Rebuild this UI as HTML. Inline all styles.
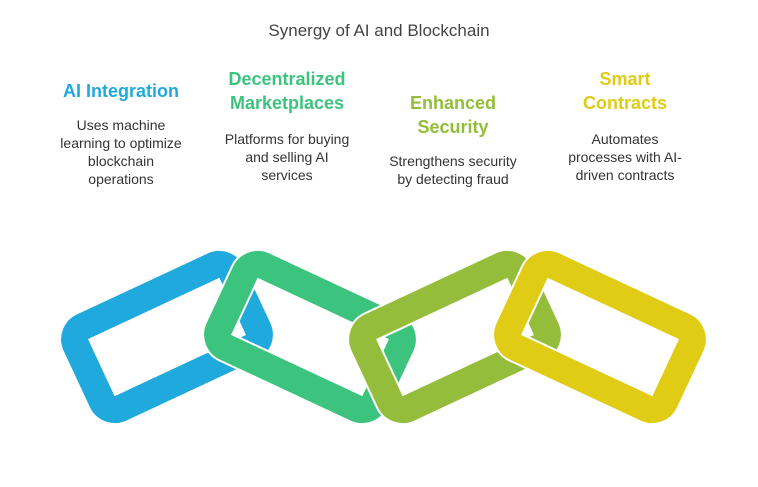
<!DOCTYPE html>
<html><head><meta charset="utf-8"><style>
body{margin:0;width:758px;height:487px;background:#fff;font-family:"Liberation Sans",sans-serif;position:relative;overflow:hidden}
.t{position:absolute;text-align:center;white-space:nowrap}
.h{font-weight:bold;font-size:18px;line-height:24px}
.d{font-size:14px;line-height:18px;color:#333}
</style></head><body>
<div class="t" style="left:0;width:758px;top:21px;font-size:17px;color:#444">Synergy of AI and Blockchain</div>
<div class="t h" style="left:21px;width:200px;top:79px;color:#1fa9dc">AI Integration</div>
<div class="t d" style="left:21px;width:200px;top:116px">Uses machine<br>learning to optimize<br>blockchain<br>operations</div>
<div class="t h" style="left:187px;width:200px;top:67px;color:#3cc47f">Decentralized<br>Marketplaces</div>
<div class="t d" style="left:187px;width:200px;top:130px">Platforms for buying<br>and selling AI<br>services</div>
<div class="t h" style="left:353px;width:200px;top:91px;color:#93bd3a">Enhanced<br>Security</div>
<div class="t d" style="left:353px;width:200px;top:152px">Strengthens security<br>by detecting fraud</div>
<div class="t h" style="left:525px;width:200px;top:67px;color:#e0cb15">Smart<br>Contracts</div>
<div class="t d" style="left:525px;width:200px;top:130px">Automates<br>processes with AI-<br>driven contracts</div>
<svg width="758" height="487" style="position:absolute;left:0;top:0">
<g fill="none" stroke-width="27">
<rect x="-86" y="-45" width="172" height="90" rx="14" stroke="#1fa9dc" transform="translate(167,337) rotate(-25)"/>
<rect x="-86" y="-45" width="172" height="90" rx="14" stroke="#fff" stroke-width="31" transform="translate(310,337) rotate(25)"/>
<rect x="-86" y="-45" width="172" height="90" rx="14" stroke="#3cc47f" transform="translate(310,337) rotate(25)"/>
<rect x="-86" y="-45" width="172" height="90" rx="14" stroke="#fff" stroke-width="31" transform="translate(455,337) rotate(-25)"/>
<rect x="-86" y="-45" width="172" height="90" rx="14" stroke="#93bd3a" transform="translate(455,337) rotate(-25)"/>
<rect x="-86" y="-45" width="172" height="90" rx="14" stroke="#fff" stroke-width="31" transform="translate(600,337) rotate(25)"/>
<rect x="-86" y="-45" width="172" height="90" rx="14" stroke="#e0cb15" transform="translate(600,337) rotate(25)"/>
</g>
</svg>
</body></html>
